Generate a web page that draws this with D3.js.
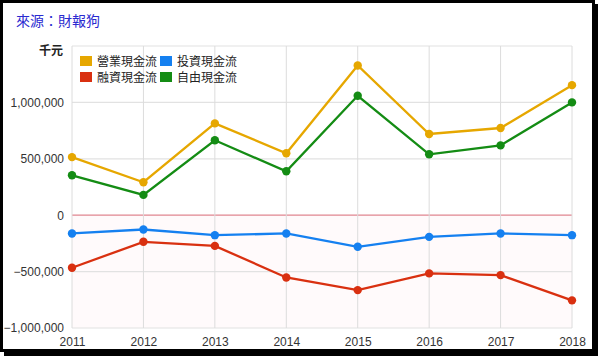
<!DOCTYPE html>
<html><head><meta charset="utf-8">
<script src="https://cdn.jsdelivr.net/npm/d3@7"></script>
<style>
body{margin:0;background:#fff;}
svg{display:block;font-family:"Liberation Sans",Arial,"Noto Sans CJK TC",sans-serif;}
</style></head>
<body><svg id="c" width="600" height="360"></svg>
<script>
const years = ["2011","2012","2013","2014","2015","2016","2017","2018"];
const seriesNames = ["營業現金流","投資現金流","融資現金流","自由現金流"];
const seriesColors = ["#e6a700","#1580f0","#d93010","#148c14"];
const operating = [515000, 292000, 814000, 549000, 1327000, 720000, 773000, 1153000];
const investing = [-162000, -127000, -177000, -162000, -280000, -192000, -162000, -177000];
const financing = [-466000, -236000, -272000, -552000, -664000, -516000, -531000, -755000];
const freeCash = [354000, 180000, 664000, 389000, 1059000, 540000, 619000, 1000000];
const yTicks = [-1000000, -500000, 0, 500000, 1000000, 1500000];
const seriesValues = [operating, investing, financing, freeCash];

const svg = d3.select("#c");
// frame with shadow
svg.append("rect").attr("x",4).attr("y",4).attr("width",594).attr("height",352).attr("fill","#000");
svg.append("rect").attr("x",1.5).attr("y",1.5).attr("width",592).attr("height",349).attr("fill","#fff").attr("stroke","#000").attr("stroke-width",3);

const x = d3.scalePoint().domain(years).range([72,572]);
const y = d3.scaleLinear().domain([-1000000,1500000]).range([328,46]);

const g = svg.append("g");
// negative region fill
g.append("rect").attr("x",72).attr("y",y(0)).attr("width",500).attr("height",y(-1000000)-y(0)).attr("fill","#fffafb");
// horizontal gridlines
g.selectAll(".hg").data(yTicks).join("line")
 .attr("x1",72).attr("x2",572).attr("y1",d=>y(d)).attr("y2",d=>y(d))
 .attr("stroke",d=>d===0?"#e08690":"#e2e2e2").attr("stroke-width",1.2);
// vertical gridlines
g.selectAll(".vg").data(years).join("line")
 .attr("x1",d=>x(d)).attr("x2",d=>x(d)).attr("y1",46).attr("y2",328)
 .attr("stroke","#dcdcdc").attr("stroke-width",1);

// y axis labels
const yAxis = d3.axisLeft(y).tickValues(yTicks.filter(v=>v!==1500000)).tickSize(0).tickPadding(8)
  .tickFormat(d=>d3.format(",")(d));
const ya = svg.append("g").attr("transform","translate(72,0)").call(yAxis);
ya.select(".domain").remove();
ya.selectAll("text").attr("font-size",12).attr("fill","#333").attr("font-family","Liberation Sans, Arial, sans-serif");

const xAxis = d3.axisBottom(x).tickSize(0).tickPadding(9);
const xa = svg.append("g").attr("transform","translate(0,328)").call(xAxis);
xa.select(".domain").remove();
xa.selectAll("text").attr("font-size",12).attr("fill","#333").attr("font-family","Liberation Sans, Arial, sans-serif");

// unit label
svg.append("text").attr("x",63).attr("y",55).attr("text-anchor","end").attr("font-size",12).attr("font-weight","bold")
 .attr("fill","#222").attr("font-family","Noto Sans CJK TC, sans-serif").text("千元");

// title
svg.append("text").attr("x",16).attr("y",26).attr("font-size",14).attr("fill","#2a2ad0")
 .attr("font-family","Noto Sans CJK TC, sans-serif").text("來源：財報狗");

// lines
const line = d3.line().x((d,i)=>x(years[i])).y(d=>y(d));
const drawOrder = [0,3,1,2];
drawOrder.forEach(si=>{
  const vals = seriesValues[si];
  g.append("path").attr("d",line(vals)).attr("fill","none").attr("stroke",seriesColors[si]).attr("stroke-width",2.3);
  g.selectAll(null).data(vals).join("circle").attr("cx",(d,i)=>x(years[i])).attr("cy",d=>y(d)).attr("r",4.2).attr("fill",seriesColors[si]);
});

// legend
const legPos = [[80,61],[160,61],[80,77],[160,77]];
seriesNames.forEach((n,i)=>{
  const [lx,ly] = legPos[i];
  svg.append("rect").attr("x",lx).attr("y",ly-5).attr("width",12).attr("height",10).attr("fill",seriesColors[i]);
  svg.append("text").attr("x",lx+17).attr("y",ly+4.5).attr("font-size",12).attr("fill","#222")
   .attr("font-family","Noto Sans CJK TC, sans-serif").text(n);
});
</script></body></html>
